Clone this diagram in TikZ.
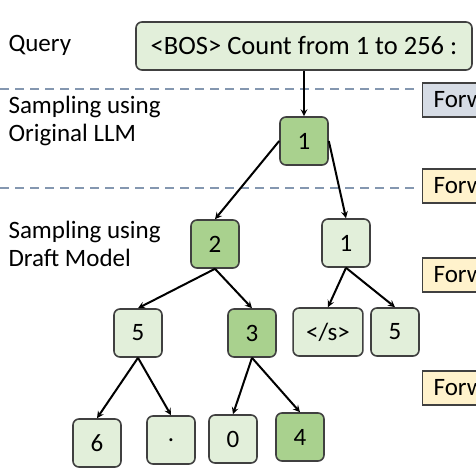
\documentclass[tikz,border=0pt]{standalone}
\usepackage{fontspec}
\setmainfont{Carlito}
\usetikzlibrary{arrows}
\definecolor{leaf}{RGB}{226,239,218}
\definecolor{kept}{RGB}{169,209,142}
\definecolor{rulecol}{RGB}{132,151,176}
\definecolor{fwdblue}{RGB}{214,220,229}
\definecolor{fwdyellow}{RGB}{255,242,204}
\definecolor{edgecol}{RGB}{64,64,64}
\newcommand{\bigtext}{\fontsize{25}{28}\selectfont}

\begin{document}
\begin{tikzpicture}[x=1pt, y=-1pt, >=stealth,
    token/.style={draw=edgecol, line width=1.6pt, rounded corners=6pt,
      fill=leaf, minimum width=48pt, minimum height=48pt, inner sep=0pt,
      font=\bigtext},
    accepted/.style={token, fill=kept},
    forward/.style={draw=edgecol, line width=1.3pt, fill=fwdyellow,
      anchor=west, minimum height=34pt, inner xsep=11pt, font=\bigtext},
    stage/.style={anchor=base west, align=left, font=\bigtext},
    divider/.style={draw=rulecol, line width=2pt, dash pattern=on 9pt off 6pt},
    link/.style={->, line width=2pt}]
  \useasboundingbox (0,0) rectangle (476,476);
  \clip (0,0) rectangle (476,476);

  % stage names
  \node[stage] (query-lbl) at (5,52) {Query};
  \node[stage] (llm-lbl) at (5,141) {Sampling using\\Original LLM};
  \node[stage] (draft-lbl) at (5,266) {Sampling using\\Draft Model};

  % separators and forward passes
  \draw[divider] (0,89) -- (415,89);
  \draw[divider] (0,188) -- (415,188);
  \node[forward, fill=fwdblue] (fwd1) at (422,100) {Forw};
  \node[forward] (fwd2) at (422,186) {Forw};
  \node[forward] (fwd3) at (422,275) {Forw};
  \node[forward] (fwd4) at (422,388) {Forw};

  % query and tree
  \node[token, minimum width=336pt, font=\fontsize{26.5}{28}\selectfont]
    (query) at (304,46) {<BOS> Count from 1 to 256 :};
  \node[accepted] (root) at (304,141) {1};
  \node[accepted] (n2) at (215,244) {2};
  \node[token] (n1) at (346,243) {1};
  \node[token] (n5) at (138,333) {5};
  \node[accepted] (n3) at (252,333) {3};
  \node[token, inner xsep=13pt] (eos) at (328,332) {</s>};
  \node[token] (m5) at (395,332) {5};
  \node[token] (n6) at (97,443) {6};
  \node[token] (dot) at (171,440) {.};
  \node[token] (n0) at (233,439) {0};
  \node[accepted] (n4) at (300,437) {4};

  \draw[link] (query) -- (root);
  \draw[link] (root.west) -- (n2.north);
  \draw[link] (root.east) -- (n1.north);
  \draw[link] (n2.south) -- (n5.north);
  \draw[link] (n2.south) -- (n3.north);
  \draw[link] (n1.south) -- (eos.north);
  \draw[link] (n1.south) -- (m5.north);
  \draw[link] (n5.south) -- (n6.north);
  \draw[link] (n5.south) -- (dot.north);
  \draw[link] (n3.south) -- (n0.north);
  \draw[link] (n3.south) -- (n4.north);
\end{tikzpicture}
\end{document}
